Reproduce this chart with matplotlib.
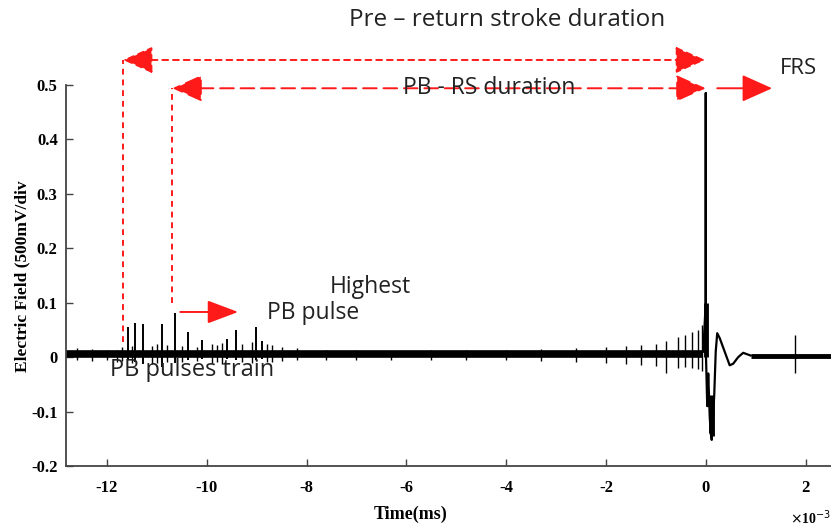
import matplotlib.pyplot as plt
from matplotlib.ticker import FixedLocator, FixedFormatter

# ---- data (time in ms, field in div units) ----
xlim = (-12.82, 2.51)
ylim = (-0.2, 0.5)

x_ticks = [-12, -10, -8, -6, -4, -2, 0, 2]
x_labels = ['-12', '-10', '-8', '-6', '-4', '-2', '0', '2']
y_ticks = [-0.2, -0.1, 0, 0.1, 0.2, 0.3, 0.4, 0.5]
y_labels = ['-0.2', '-0.1', '0', '0.1', '0.2', '0.3', '0.4', '0.5']

# noisy baseline level before / after the return stroke
base_pre_t = [-12.82, -0.05]
base_pre_v = [0.005, 0.005]
base_post_t = [0.9, 2.51]
base_post_v = [0.003, 0.003]

# preliminary breakdown pulses
pb_t = [-11.58, -11.44, -11.28, -10.90, -10.64, -10.37, -10.10, -9.60, -9.42, -9.01, -8.90]
pb_top = [0.056, 0.062, 0.061, 0.061, 0.081, 0.047, 0.031, 0.034, 0.050, 0.056, 0.030]
pb_bot = [-0.005, -0.008, -0.012, -0.018, -0.010, -0.005, -0.004, -0.004, -0.006, -0.005, -0.004]

# small spikes riding on the baseline
minor_t = [-12.6, -12.3, -12.0, -11.8, -11.7, -11.5, -11.1, -11.0, -10.8, -10.5, -10.2,
           -9.9, -9.8, -9.7, -9.3, -9.1, -8.8, -8.7, -8.5, -8.2, -7.6, -7.0, -6.3, -5.5,
           -4.8, -4.0, -3.3, -2.6, -2.0, -1.6, -1.3, -1.0, -0.8, -0.55, -0.41, -0.27,
           -0.15, -0.07, 1.79]
minor_top = [0.016, 0.015, 0.014, 0.013, 0.018, 0.020, 0.020, 0.025, 0.022, 0.020, 0.018,
             0.024, 0.022, 0.026, 0.025, 0.028, 0.024, 0.022, 0.018, 0.016, 0.014, 0.013,
             0.012, 0.014, 0.013, 0.014, 0.015, 0.016, 0.018, 0.020, 0.022, 0.025, 0.030,
             0.037, 0.040, 0.046, 0.050, 0.060, 0.040]
minor_bot = [-0.006, -0.007, -0.006, -0.008, -0.007, -0.010, -0.012, -0.010, -0.008, -0.009,
             -0.007, -0.010, -0.008, -0.012, -0.009, -0.010, -0.008, -0.009, -0.007, -0.006,
             -0.006, -0.006, -0.005, -0.006, -0.006, -0.006, -0.007, -0.008, -0.010, -0.012,
             -0.014, -0.016, -0.030, -0.020, -0.018, -0.020, -0.022, -0.025, -0.030]

# return stroke waveform
rs_t = [-0.05, 0.0, 0.0, 0.0, 0.03, 0.05, 0.08, 0.10, 0.12, 0.14, 0.17, 0.20, 0.23,
        0.28, 0.34, 0.42, 0.48, 0.55, 0.65, 0.75, 0.9]
rs_v = [0.01, 0.10, 0.485, 0.02, -0.09, -0.03, -0.11, -0.14, -0.152, -0.12, -0.07, 0.01,
        0.044, 0.035, 0.02, 0.0, -0.015, -0.012, 0.0, 0.008, 0.003]
rs_core_t = [0.0, 0.11, 0.13]
rs_core_lo = [0.0, -0.14, -0.145]
rs_core_hi = [0.10, -0.07, -0.08]

# annotation anchors
pre_rs = (-11.68, -0.01, 0.546)   # x_start, x_end, y
pb_rs = (-10.69, 0.0, 0.494)
frs = (0.23, 1.33, 0.494)
pb_arrow = (-10.53, -9.37, 0.083)
vline_pre = (-11.68, 0.028, 0.546)
vline_pb = (-10.69, 0.099, 0.494)

# ---- figure ----
fig = plt.figure(figsize=(8.31, 5.27), dpi=100)
ax = fig.add_axes([0.0794, 0.1157, 0.9206, 0.7230])

red = '#ff1a1a'
ax.plot(base_pre_t, base_pre_v, color='k', lw=5.5, solid_capstyle='butt')
ax.plot(base_post_t, base_post_v, color='k', lw=3.5, solid_capstyle='butt')
ax.vlines(minor_t, minor_bot, minor_top, color='k', lw=1.0)
ax.vlines(pb_t, pb_bot, pb_top, color='k', lw=1.4)
ax.plot(rs_t, rs_v, color='k', lw=1.6)
ax.vlines(rs_core_t, rs_core_lo, rs_core_hi, color='k', lw=3.5)

ax.set_xlim(*xlim)
ax.set_ylim(*ylim)

head = 'head_length=1.45,head_width=0.65'
# dashed double arrows
ax.annotate('', xy=(pre_rs[0], pre_rs[2]), xytext=(pre_rs[1], pre_rs[2]),
            annotation_clip=False,
            arrowprops=dict(arrowstyle='<|-|>,' + head,
                            mutation_scale=13, color=red, lw=1.4, linestyle=(0, (3, 2.5)),
                            shrinkA=0, shrinkB=0))
ax.annotate('', xy=(pb_rs[0], pb_rs[2]), xytext=(pb_rs[1], pb_rs[2]),
            annotation_clip=False,
            arrowprops=dict(arrowstyle='<|-|>,' + head,
                            mutation_scale=13, color=red, lw=1.4, linestyle=(0, (7, 3.5)),
                            shrinkA=0, shrinkB=0))
ax.annotate('', xy=(frs[1], frs[2]), xytext=(frs[0], frs[2]),
            annotation_clip=False,
            arrowprops=dict(arrowstyle='-|>,' + head,
                            mutation_scale=13, color=red, lw=1.4, shrinkA=0, shrinkB=0))
ax.annotate('', xy=(pb_arrow[1], pb_arrow[2]), xytext=(pb_arrow[0], pb_arrow[2]),
            arrowprops=dict(arrowstyle='-|>,head_length=1.6,head_width=0.6',
                            mutation_scale=12, color=red, lw=1.4, shrinkA=0, shrinkB=0))
ax.plot([vline_pre[0], vline_pre[0]], [vline_pre[1], vline_pre[2]], color=red, lw=1.4,
        linestyle=(0, (3, 2.5)), clip_on=False)
ax.plot([vline_pb[0], vline_pb[0]], [vline_pb[1], vline_pb[2]], color=red, lw=1.4,
        linestyle=(0, (3, 2.5)), clip_on=False)

# annotation texts
afont = dict(family='Open Sans', color='#222222')
ax.text(-3.98, 0.62, 'Pre \u2013 return stroke duration', ha='center', va='center',
        fontsize=17.5, clip_on=False, **afont)
ax.text(-4.34, 0.494, 'PB - RS duration', ha='center', va='center', fontsize=16.5, **afont)
ax.text(1.49, 0.531, 'FRS', ha='left', va='center', fontsize=16, clip_on=False, **afont)
ax.text(-6.73, 0.129, 'Highest', ha='center', va='center', fontsize=16.5, **afont)
ax.text(-7.87, 0.081, 'PB pulse', ha='center', va='center', fontsize=16.5, **afont)
ax.text(-11.94, -0.024, 'PB pulses train', ha='left', va='center', fontsize=17, **afont)

# axes styling
for s in ['top', 'right']:
    ax.spines[s].set_visible(False)
for s in ['left', 'bottom']:
    ax.spines[s].set_color('#444444')
    ax.spines[s].set_linewidth(1.3)

ax.xaxis.set_major_locator(FixedLocator(x_ticks))
ax.xaxis.set_major_formatter(FixedFormatter(x_labels))
ax.yaxis.set_major_locator(FixedLocator(y_ticks))
ax.yaxis.set_major_formatter(FixedFormatter(y_labels))
ax.tick_params(direction='in', length=5, width=1, color='#444444')
ax.tick_params(axis='x', pad=10)
ax.tick_params(axis='y', pad=6)
for lab in ax.get_xticklabels() + ax.get_yticklabels():
    lab.set_fontfamily('Liberation Serif')
    lab.set_fontweight('bold')
    lab.set_fontsize(12)

fig.text(22 / 831, 1 - 276 / 527, 'Electric Field (500mV/div', rotation=90,
         ha='center', va='center', family='Liberation Serif', weight='bold', fontsize=12.5)
fig.text(411 / 831, 1 - 514 / 527, 'Time(ms)', ha='center', va='center',
         family='Liberation Serif', weight='bold', fontsize=13)
fig.text(790 / 831, 1 - 518 / 527, r'$\times$10$^{-3}$', ha='left', va='center',
         family='Liberation Serif', weight='bold', fontsize=10)

fig.savefig('out.png', dpi=100)
